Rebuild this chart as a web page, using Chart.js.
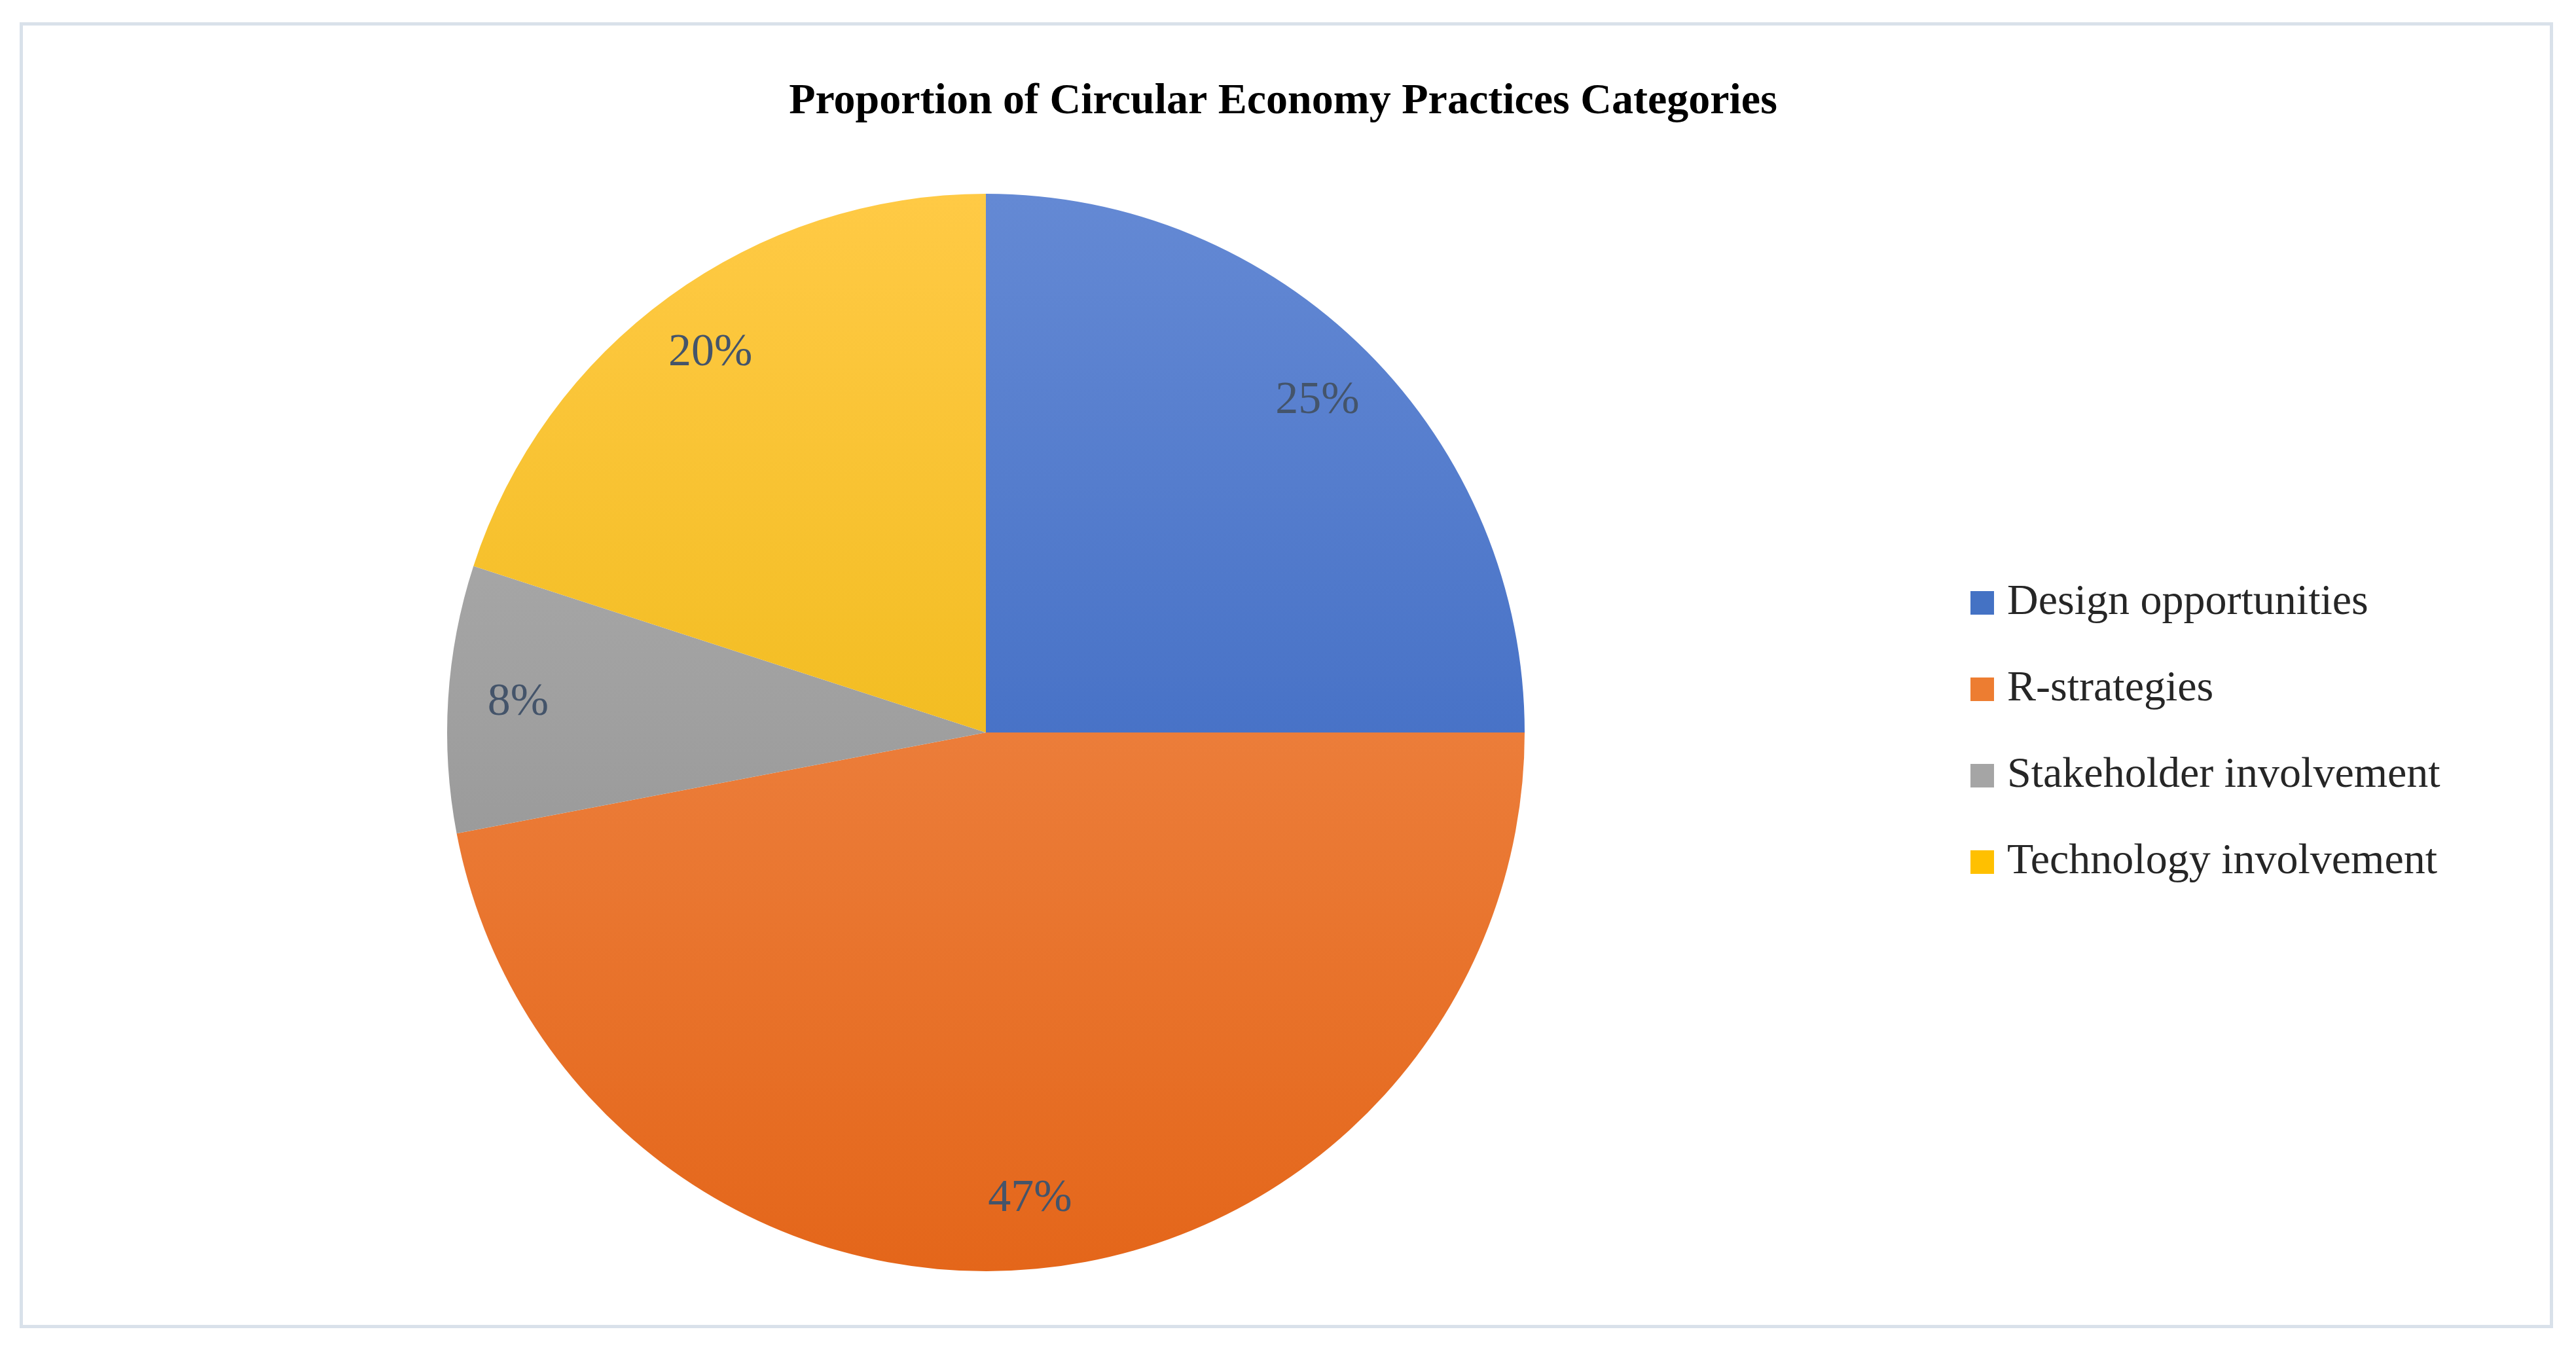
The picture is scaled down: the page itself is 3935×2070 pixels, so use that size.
<!DOCTYPE html>
<html>
<head>
<meta charset="utf-8">
<script src="https://cdn.jsdelivr.net/npm/chart.js@4.4.0/dist/chart.umd.min.js"></script>
<style>
  html, body { margin: 0; padding: 0; background: #fff; }
  #wrap { position: relative; width: 3935px; height: 2070px; }
  #frame { position: absolute; left: 30px; top: 34px; width: 3870px; height: 1995px; border: 5px solid #d9e1ea; box-sizing: border-box; }
  canvas { position: absolute; left: 0; top: 0; }
</style>
</head>
<body>
<div id="wrap">
  <div id="frame"></div>
  <canvas id="chart" width="3935" height="2070" style="width:3935px;height:2070px"></canvas>
</div>
<script>
const categories = ["Design opportunities", "R-strategies", "Stakeholder involvement", "Technology involvement"];
const shares = [25, 47, 8, 20];
const labelsText = ["25%", "47%", "8%", "20%"];
const colorTops = ["#6489d4", "#f39459", "#b4b4b4", "#ffca45"];
const colorBottoms = ["#2c5cba", "#e4661a", "#8a8a8a", "#e6b000"];
const legendSwatch = ["#4472c4", "#ed7d31", "#a5a5a5", "#ffc000"];
const titleText = "Proportion of Circular Economy Practices Categories";

const sliceFill = (ctx) => {
  const chart = ctx.chart;
  const area = chart.chartArea;
  if (!area) return legendSwatch[ctx.dataIndex];
  const g = chart.ctx.createLinearGradient(0, area.top, 0, area.bottom);
  g.addColorStop(0, colorTops[ctx.dataIndex]);
  g.addColorStop(1, colorBottoms[ctx.dataIndex]);
  return g;
};

// title, slice labels and legend drawn on top
const extras = {
  id: "extras",
  afterDraw(chart) {
    const c = chart.ctx;
    c.save();
    c.fillStyle = "#000";
    c.font = "bold 66px 'Liberation Serif'";
    c.textAlign = "center";
    c.textBaseline = "middle";
    c.fillText(titleText, 1960, 156);

    const meta = chart.getDatasetMeta(0);
    c.font = "70px 'Liberation Serif'";
    c.fillStyle = "#44546a";
    meta.data.forEach((arc, i) => {
      const mid = (arc.startAngle + arc.endAngle) / 2;
      const r = arc.outerRadius * 0.87;
      c.fillText(labelsText[i], arc.x + Math.cos(mid) * r, arc.y + Math.sin(mid) * r);
    });

    c.textAlign = "left";
    c.font = "66px 'Liberation Serif'";
    categories.forEach((name, i) => {
      const y = 921 + i * 132;
      c.fillStyle = legendSwatch[i];
      c.fillRect(3010, y - 18, 36, 36);
      c.fillStyle = "#262626";
      c.fillText(name, 3066, y);
    });
    c.restore();
  }
};

new Chart(document.getElementById("chart"), {
  type: "pie",
  data: {
    labels: categories,
    datasets: [{ data: shares, backgroundColor: sliceFill, borderWidth: 0 }]
  },
  options: {
    responsive: false,
    animation: false,
    devicePixelRatio: 1,
    layout: { padding: { left: 683, right: 1606, top: 296, bottom: 128 } },
    plugins: { legend: { display: false }, tooltip: { enabled: false }, title: { display: false } }
  },
  plugins: [extras]
});
</script>
</body>
</html>
